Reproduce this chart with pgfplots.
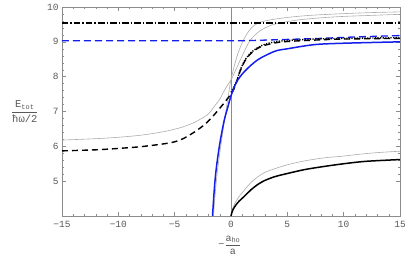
\documentclass[border=0pt]{standalone}
\usepackage{pgfplots}
\pgfplotsset{compat=1.18}
\usepackage{fontspec}
\setmainfont{Liberation Mono}
\definecolor{fr}{gray}{0.55}
\definecolor{tl}{gray}{0.35}
\definecolor{pb}{RGB}{20,30,235}
\begin{document}
\begin{tikzpicture}
\begin{axis}[
  scale only axis, width=338pt, height=209pt,
  xmin=-15, xmax=15, ymin=4, ymax=10,
  xtick={-15,-10,-5,0,5,10,15},
  xticklabels={−15,−10,−5,0,5,10,15},
  ytick={5,6,7,8,9,10},
  minor x tick num=4, minor y tick num=4,
  tick align=inside,
  major tick length=4pt, minor tick length=2pt,
  axis line style={fr, line width=0.5pt},
  every tick/.style={fr, line width=0.4pt},
  ticklabel style={font=\fontsize{9.5}{10}\selectfont, text=tl},
  /pgf/number format/assume math mode=true,
  xticklabel style={yshift=-2pt},
  xlabel={\fontsize{10}{11}\selectfont\color{tl}$\displaystyle\mbox{−}\frac{\mbox{a}_{\mbox{\scriptsize ho}}}{\mbox{a}}$},
  xlabel style={at={(axis description cs:0.497,-0.14)}, anchor=center},
  ylabel={\fontsize{10.5}{11}\selectfont\color{tl}$\displaystyle\frac{\mbox{E}_{\mbox{\scriptsize tot}}}{\mbox{ħω/2}}$},
  ylabel style={rotate=-90, at={(axis description cs:-0.11,0.50)}, anchor=center},
  clip=true,
]
% axis line at x=0
\addplot[fr, line width=0.5pt] coordinates {(0,4) (0,10)};
% gray A (shallow from left)
\addplot[gray!65, line width=0.6pt, smooth] coordinates {
(-15,6.18) (-12,6.22) (-10,6.26) (-8,6.32) (-6,6.42) (-4.55,6.53) (-3.5,6.65)
(-2.77,6.77) (-2,6.93) (-1.59,7.1) (-1,7.35) (-0.7,7.54) (-0.3,7.76) (0,7.9)
(0.5,8.25) (1,8.6) (1.67,9.03) (2.5,9.3) (3.5,9.47) (4.5,9.55) (6,9.63)
(8,9.69) (10,9.73) (12.5,9.76) (15,9.79)};
% gray B (steep)
\addplot[gray!65, line width=0.6pt, smooth] coordinates {
(-1.55,4.0) (-1.45,4.45) (-1.33,4.9) (-1.18,5.35) (-1.0,5.8) (-0.8,6.25)
(-0.6,6.7) (-0.4,7.12) (-0.2,7.53) (0,7.92) (0.5,8.55) (1.07,9.03) (1.8,9.4)
(2.5,9.55) (3.5,9.63) (5,9.7) (7,9.76) (10,9.81) (12.5,9.84) (15,9.86)};
% gray bottom
\addplot[gray!65, line width=0.6pt, smooth] coordinates {
(0,4.0) (0.08,4.13) (0.2,4.26) (0.4,4.4) (0.7,4.55) (1.2,4.75) (1.8,4.97)
(2.4,5.13) (3,5.25) (3.9,5.36) (5,5.47) (6.5,5.58) (8.3,5.67) (10,5.72)
(11.3,5.77) (13,5.82) (15,5.86)};
% black dash-dot horizontal
\addplot[black, line width=1.3pt, dash pattern=on 6.5pt off 2pt on 1.5pt off 2pt] coordinates {(-15,9.54) (15,9.54)};
% blue dashed
\addplot[pb, line width=1.3pt, dash pattern=on 7pt off 4pt, smooth] coordinates {
(-15,9.03) (-5,9.03) (0,9.03) (2,9.04) (5,9.07) (8,9.1) (11,9.14) (15,9.18)};
% black dashed
\addplot[black, line width=1.4pt, dash pattern=on 6pt off 4pt, smooth] coordinates {
(-15,5.87) (-12,5.9) (-10,5.94) (-8,5.99) (-6,6.07) (-5,6.13) (-4.25,6.22)
(-3.2,6.42) (-2.33,6.63) (-1.59,6.87) (-0.85,7.15) (-0.26,7.39) (0.19,7.6)
(0.5,7.85) (0.8,8.15) (1.23,8.45) (1.8,8.68) (2.4,8.82) (3,8.9) (3.9,8.97)
(5,9.01) (7.4,9.05) (10,9.08) (15,9.1)};
% black dotted
\addplot[black, line width=1.4pt, dash pattern=on 1.2pt off 1.4pt, smooth] coordinates {
(0,7.55) (0.5,7.87) (0.8,8.17) (1.23,8.47) (1.8,8.7) (2.4,8.84) (3,8.93)
(3.9,9.0) (5,9.04) (7.4,9.08) (10,9.1) (15,9.12)};
% black solid bottom
\addplot[black, line width=1.5pt, smooth] coordinates {
(0,4.0) (0.08,4.1) (0.2,4.2) (0.4,4.3) (0.7,4.42) (1.2,4.57) (1.8,4.76)
(2.4,4.91) (3,5.02) (3.9,5.13) (5,5.22) (6.5,5.33) (8,5.41) (10,5.5)
(12,5.57) (15,5.62)};
% blue solid
\addplot[pb, line width=1.5pt, smooth] coordinates {
(-1.64,4.0) (-1.55,4.45) (-1.45,4.9) (-1.33,5.3) (-1.15,5.75) (-0.93,6.2)
(-0.6,6.75) (-0.26,7.15) (0,7.45) (0.5,7.85) (1.23,8.16) (2.4,8.49)
(3.9,8.73) (5,8.8) (7.4,8.92) (10,8.96) (15,9.0)};
\end{axis}
\pgfresetboundingbox
\path ([xshift=-62pt,yshift=-41pt]current axis.south west) rectangle ([xshift=15pt,yshift=7pt]current axis.north east);
\end{tikzpicture}
\end{document}
